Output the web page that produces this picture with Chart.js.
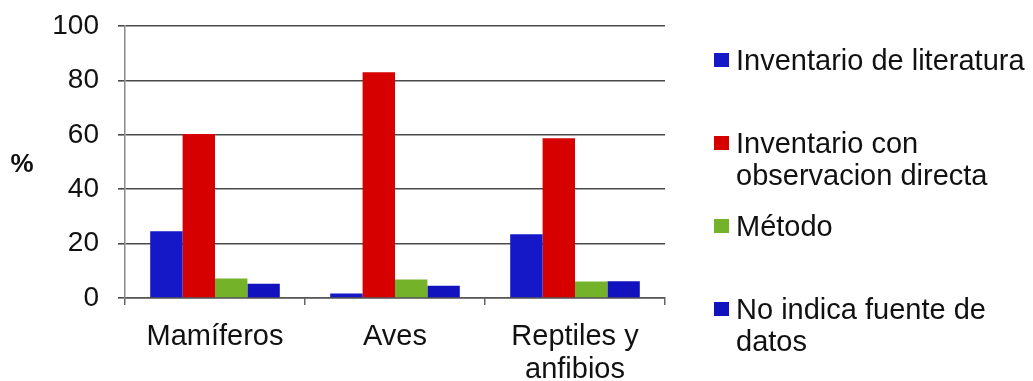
<!DOCTYPE html>
<html>
<head>
<meta charset="utf-8">
<style>
  html, body { margin: 0; padding: 0; background: #ffffff; }
  #wrap { width: 1033px; height: 381px; }
</style>
<script src="https://cdn.jsdelivr.net/npm/chart.js@4"></script>
</head>
<body>
<div id="wrap"><canvas id="c" width="1033" height="381"></canvas></div>
<script>
// Categories on the x axis (multi-line labels as arrays)
const categories = ['Mamíferos', 'Aves', ['Reptiles y', 'anfibios']];

// Percentage of studies per information source
const inventarioLiteratura = [24.5, 1.7, 23.4];
const inventarioObservacion = [60.3, 83.0, 58.7];
const metodo = [7.2, 6.8, 6.1];
const noIndicaFuente = [5.2, 4.5, 6.2];

// Series names (legend lines)
const seriesNames = [
  ['Inventario de literatura'],
  ['Inventario con', 'observacion directa'],
  ['Método'],
  ['No indica fuente de', 'datos']
];
const seriesColors = ['#1418C6', '#D60000', '#74B22A', '#1212BE'];

// Y axis ticks
const yTicks = [0, 20, 40, 60, 80, 100];
const yTitle = '%';

const FONT = "'Liberation Sans', Arial, Helvetica, sans-serif";

// Horizontal "%" title left of the value axis
const yTitlePlugin = {
  id: 'yTitle',
  afterDraw(chart) {
    const { ctx, chartArea } = chart;
    ctx.save();
    ctx.font = 'bold 26px ' + FONT;
    ctx.fillStyle = '#111';
    ctx.textAlign = 'center';
    ctx.textBaseline = 'middle';
    ctx.fillText(yTitle, 22, (chartArea.top + chartArea.bottom) / 2 + 3);
    ctx.restore();
  }
};

// Legend on the right with evenly spaced entries and wrapped text
const sideLegendPlugin = {
  id: 'sideLegend',
  afterDraw(chart) {
    const { ctx } = chart;
    const x0 = 714, firstY = 60, step = 83, lineH = 32;
    ctx.save();
    ctx.font = '29px ' + FONT;
    ctx.textAlign = 'left';
    ctx.textBaseline = 'middle';
    chart.data.datasets.forEach((ds, i) => {
      const yc = firstY + i * step;
      ctx.fillStyle = ds.backgroundColor;
      ctx.fillRect(x0, yc - 7, 15, 14);
      ctx.fillStyle = '#111';
      ds.legendLines.forEach((line, j) => {
        ctx.fillText(line, x0 + 22, yc + 2 + j * lineH);
      });
    });
    ctx.restore();
  }
};

const seriesData = [inventarioLiteratura, inventarioObservacion, metodo, noIndicaFuente];

new Chart(document.getElementById('c'), {
  type: 'bar',
  data: {
    labels: categories,
    datasets: seriesData.map((values, i) => ({
      label: seriesNames[i].join(' '),
      legendLines: seriesNames[i],
      data: values,
      backgroundColor: seriesColors[i],
      borderWidth: 0,
      barPercentage: 1.0,
      categoryPercentage: 0.72
    }))
  },
  options: {
    responsive: false,
    animation: false,
    events: [],
    layout: { padding: { left: 0, top: 26, right: 368, bottom: 0 } },
    plugins: {
      legend: { display: false },
      tooltip: { enabled: false },
      title: { display: false }
    },
    scales: {
      x: {
        grid: {
          display: true,
          drawOnChartArea: false,
          drawTicks: true,
          tickLength: 7,
          color: '#666',
          lineWidth: 1.5,
          offset: true
        },
        border: { display: true, color: '#555', width: 1.5 },
        ticks: {
          color: '#111',
          font: { family: FONT, size: 29, lineHeight: 1.14 },
          padding: 15,
          maxRotation: 0,
          autoSkip: false
        },
        afterFit(scale) {
          scale.height = 83;
          scale.paddingLeft = 0;
          scale.paddingRight = 0;
        }
      },
      y: {
        min: 0,
        max: 100,
        afterBuildTicks(scale) { scale.ticks = yTicks.map(v => ({ value: v })); },
        grid: {
          color: '#4a4a4a',
          lineWidth: 1.6,
          tickLength: 7,
          drawTicks: true
        },
        border: { display: true, color: '#8a8a8a', width: 1.5 },
        ticks: {
          color: '#111',
          font: { family: FONT, size: 28 },
          padding: 19
        },
        afterFit(scale) {
          scale.width = 125;
          scale.paddingTop = 0;
          scale.paddingBottom = 0;
        }
      }
    }
  },
  plugins: [yTitlePlugin, sideLegendPlugin]
});
</script>
</body>
</html>
